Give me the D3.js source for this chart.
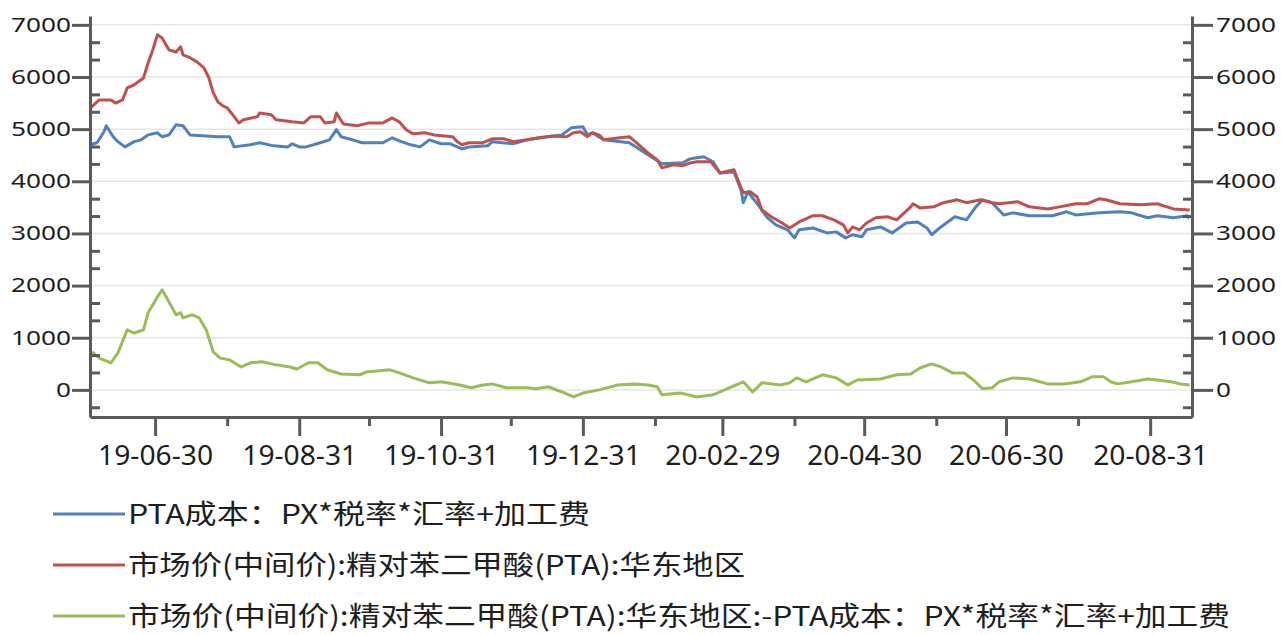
<!DOCTYPE html>
<html><head><meta charset="utf-8">
<script src="https://cdn.jsdelivr.net/npm/d3@7"></script>
<style>body{margin:0;background:#fff;} svg{display:block}</style>
</head><body><svg id="c" width="1281" height="635"></svg>
<script>
// ---------------- data ----------------
const seriesNames = [
  "PTA成本：PX*税率*汇率+加工费",
  "市场价(中间价):精对苯二甲酸(PTA):华东地区",
  "市场价(中间价):精对苯二甲酸(PTA):华东地区:-PTA成本：PX*税率*汇率+加工费"
];
const seriesColors = ["#4f81bd", "#c0504d", "#9bbb59"];

const costDates = ["2019-06-02","2019-06-05","2019-06-08","2019-06-09","2019-06-12","2019-06-14","2019-06-17","2019-06-21","2019-06-24","2019-06-27",
"2019-07-01","2019-07-03","2019-07-06","2019-07-09","2019-07-12","2019-07-15","2019-07-22","2019-07-27","2019-08-01","2019-08-03",
"2019-08-10","2019-08-14","2019-08-20","2019-08-26","2019-08-28","2019-08-31","2019-09-03","2019-09-09","2019-09-13","2019-09-16",
"2019-09-18","2019-09-23","2019-09-27","2019-10-06","2019-10-10","2019-10-13","2019-10-18","2019-10-22","2019-10-26","2019-10-31",
"2019-11-04","2019-11-07","2019-11-09","2019-11-12","2019-11-20","2019-11-22","2019-12-01","2019-12-07","2019-12-16","2019-12-22",
"2019-12-26","2019-12-31","2020-01-02","2020-01-04","2020-01-09","2020-01-20","2020-01-26","2020-01-30","2020-02-03","2020-02-12",
"2020-02-15","2020-02-18","2020-02-21","2020-02-25","2020-02-28","2020-03-05","2020-03-08","2020-03-09","2020-03-11","2020-03-16",
"2020-03-19","2020-03-23","2020-03-28","2020-03-31","2020-04-02","2020-04-08","2020-04-14","2020-04-18","2020-04-22","2020-04-25",
"2020-04-29","2020-05-01","2020-05-07","2020-05-12","2020-05-18","2020-05-23","2020-05-27","2020-05-29","2020-06-02","2020-06-08",
"2020-06-13","2020-06-17","2020-06-20","2020-06-24","2020-06-29","2020-07-03","2020-07-10","2020-07-20","2020-07-26","2020-07-30",
"2020-08-09","2020-08-18","2020-08-23","2020-08-30","2020-09-03","2020-09-10","2020-09-16","2020-09-17"];
const costValues = [4700,4740,4950,5065,4855,4760,4660,4760,4795,4890,
4930,4855,4890,5085,5065,4890,4870,4855,4855,4660,
4700,4740,4680,4660,4720,4660,4660,4740,4795,4990,
4855,4795,4740,4740,4835,4775,4700,4660,4795,4720,
4720,4660,4620,4660,4680,4760,4720,4795,4855,4890,
5025,5045,4890,4930,4795,4740,4565,4450,4335,4355,
4430,4450,4470,4375,4160,4180,3835,3590,3800,3510,
3320,3165,3070,2915,3070,3105,3010,3030,2915,2975,
2935,3070,3125,3010,3200,3220,3105,2975,3125,3320,
3260,3510,3645,3590,3355,3395,3340,3340,3415,3355,
3395,3415,3395,3300,3340,3300,3340,3290];

const priceDates = ["2019-06-02","2019-06-06","2019-06-11","2019-06-13","2019-06-16","2019-06-18","2019-06-21","2019-06-25","2019-06-27","2019-06-29",
"2019-07-01","2019-07-03","2019-07-06","2019-07-09","2019-07-11","2019-07-12","2019-07-15","2019-07-18","2019-07-21","2019-07-23",
"2019-07-25","2019-07-27","2019-07-29","2019-07-31","2019-08-03","2019-08-05","2019-08-07","2019-08-13","2019-08-14","2019-08-19",
"2019-08-21","2019-08-28","2019-09-02","2019-09-05","2019-09-09","2019-09-11","2019-09-15","2019-09-16","2019-09-19","2019-09-25",
"2019-09-30","2019-10-06","2019-10-10","2019-10-13","2019-10-16","2019-10-19","2019-10-24","2019-10-28","2019-11-05","2019-11-07",
"2019-11-09","2019-11-12","2019-11-18","2019-11-22","2019-11-27","2019-12-01","2019-12-07","2019-12-12","2019-12-18","2019-12-24",
"2019-12-27","2019-12-30","2020-01-02","2020-01-04","2020-01-07","2020-01-09","2020-01-16","2020-01-20","2020-01-23","2020-01-28",
"2020-02-01","2020-02-03","2020-02-08","2020-02-12","2020-02-15","2020-02-18","2020-02-24","2020-02-28","2020-03-05","2020-03-07",
"2020-03-09","2020-03-12","2020-03-15","2020-03-17","2020-03-21","2020-03-25","2020-03-29","2020-04-02","2020-04-08","2020-04-12",
"2020-04-17","2020-04-21","2020-04-23","2020-04-25","2020-04-28","2020-05-01","2020-05-05","2020-05-10","2020-05-14","2020-05-20",
"2020-05-21","2020-05-24","2020-05-30","2020-06-03","2020-06-09","2020-06-13","2020-06-19","2020-06-24","2020-06-27","2020-07-05",
"2020-07-10","2020-07-18","2020-07-23","2020-07-30","2020-08-04","2020-08-09","2020-08-12","2020-08-18","2020-08-27","2020-09-03",
"2020-09-10","2020-09-17"];
const priceValues = [5400,5560,5560,5500,5560,5790,5850,5980,6270,6520,
6810,6750,6520,6480,6580,6425,6370,6290,6175,6000,
5700,5525,5450,5410,5240,5120,5180,5240,5310,5275,
5180,5140,5120,5240,5240,5120,5140,5310,5100,5065,
5120,5120,5215,5140,4990,4910,4930,4890,4855,4760,
4700,4740,4740,4815,4815,4760,4795,4835,4870,4855,
4930,4950,4855,4930,4890,4795,4835,4855,4740,4545,
4410,4260,4315,4300,4350,4375,4375,4160,4220,3990,
3780,3800,3700,3450,3320,3220,3105,3220,3340,3340,
3260,3165,3010,3125,3070,3200,3300,3320,3260,3510,
3570,3490,3510,3590,3645,3590,3645,3590,3570,3610,
3510,3470,3510,3570,3570,3665,3645,3570,3550,3570,
3470,3450];

const spreadDates = ["2019-06-03","2019-06-06","2019-06-11","2019-06-14","2019-06-18","2019-06-21","2019-06-25","2019-06-27","2019-07-01","2019-07-03",
"2019-07-05","2019-07-09","2019-07-11","2019-07-12","2019-07-16","2019-07-19","2019-07-22","2019-07-25","2019-07-28","2019-08-01",
"2019-08-06","2019-08-10","2019-08-15","2019-08-21","2019-08-27","2019-08-30","2019-09-04","2019-09-08","2019-09-12","2019-09-18",
"2019-09-26","2019-09-29","2019-10-09","2019-10-13","2019-10-19","2019-10-26","2019-10-31","2019-11-08","2019-11-13","2019-11-18",
"2019-11-22","2019-11-28","2019-12-07","2019-12-11","2019-12-16","2019-12-22","2019-12-27","2019-12-31","2020-01-07","2020-01-15",
"2020-01-22","2020-01-28","2020-02-01","2020-02-03","2020-02-11","2020-02-18","2020-02-25","2020-03-02","2020-03-09","2020-03-13",
"2020-03-17","2020-03-25","2020-03-29","2020-04-01","2020-04-05","2020-04-12","2020-04-18","2020-04-23","2020-04-27","2020-05-07",
"2020-05-14","2020-05-20","2020-05-24","2020-05-29","2020-06-02","2020-06-07","2020-06-12","2020-06-16","2020-06-20","2020-06-24",
"2020-06-27","2020-07-03","2020-07-10","2020-07-18","2020-07-25","2020-08-01","2020-08-06","2020-08-11","2020-08-14","2020-08-17",
"2020-08-23","2020-08-30","2020-09-03","2020-09-09","2020-09-13","2020-09-17"];
const spreadValues = [730,610,520,710,1150,1090,1150,1480,1780,1920,
1765,1440,1480,1380,1440,1380,1150,730,610,575,
440,520,540,480,440,400,520,520,385,305,
290,345,385,325,230,135,155,95,40,95,
115,40,40,20,60,-40,-135,-60,0,95,
115,95,60,-95,-60,-135,-95,20,155,-40,
135,95,135,230,155,290,230,95,190,210,
290,305,420,500,440,325,325,190,20,40,
155,230,210,115,115,155,250,250,155,115,
155,210,190,155,115,95];

const yMajorTicks = [0,1000,2000,3000,4000,5000,6000,7000];
const yMinorTicks = [-333.33,333.33,666.67,1333.33,1666.67,2333.33,2666.67,3333.33,3666.67,4333.33,4666.67,5333.33,5666.67,6333.33,6666.67];
const xMajorTicks = ["2019-06-30","2019-08-31","2019-10-31","2019-12-31","2020-02-29","2020-04-30","2020-06-30","2020-08-31"];
const xMinorTicks = ["2019-07-31","2019-09-30","2019-11-30","2020-01-31","2020-03-31","2020-05-31","2020-07-31"];

// ---------------- chart ----------------
const parse = d3.timeParse("%Y-%m-%d");
const svg = d3.select("#c");
const L = 90, R = 1192, T = 16, B = 417;
const x = d3.scaleTime().domain([parse("2019-06-02"), parse("2020-09-18")]).range([L, R]);
const y = d3.scaleLinear().domain([-520, 7170]).range([B, T]);
const axisColor = "#5a5a5a";
const textColor = "#1e1e1e";

// gridlines
svg.append("g").selectAll("line").data(yMajorTicks).join("line")
  .attr("x1", L).attr("x2", R).attr("y1", d => y(d)).attr("y2", d => y(d))
  .attr("stroke", "#e6e6e6").attr("stroke-width", 1.5);

// series
const series = [
  {dates: costDates, values: costValues},
  {dates: priceDates, values: priceValues},
  {dates: spreadDates, values: spreadValues}
];
const line = d3.line().x(d => x(d[0])).y(d => y(d[1])).curve(d3.curveLinear);
series.forEach((s, i) => {
  const pts = s.dates.map((d, k) => [parse(d), s.values[k]]);
  svg.append("path").datum(pts).attr("d", line)
    .attr("fill", "none").attr("stroke", seriesColors[i])
    .attr("stroke-width", 3).attr("stroke-linejoin", "round");
});

function styleAxis(g) {
  g.selectAll("path.domain").attr("stroke", axisColor).attr("stroke-width", 3);
  g.selectAll(".tick line").attr("stroke", axisColor).attr("stroke-width", 3);
}

// left axis
const gl = svg.append("g").attr("transform", `translate(${L},0)`)
  .call(d3.axisLeft(y).tickValues(yMajorTicks).tickSizeInner(18).tickSizeOuter(0).tickPadding(1).tickFormat(d3.format("d")));
styleAxis(gl);
const glm = svg.append("g").attr("transform", `translate(${L},0)`)
  .call(d3.axisLeft(y).tickValues(yMinorTicks).tickSize(-10).tickFormat(""));
glm.select(".domain").remove(); styleAxis(glm);

// right axis
const gr = svg.append("g").attr("transform", `translate(${R},0)`)
  .call(d3.axisRight(y).tickValues(yMajorTicks).tickSizeInner(21).tickSizeOuter(0).tickPadding(3).tickFormat(d3.format("d")));
styleAxis(gr);
const grm = svg.append("g").attr("transform", `translate(${R},0)`)
  .call(d3.axisRight(y).tickValues(yMinorTicks).tickSize(-9).tickFormat(""));
grm.select(".domain").remove(); styleAxis(grm);

[gl, gr].forEach(g => {
  g.selectAll("text")
    .attr("font-family", "'Noto Sans', 'Open Sans', sans-serif")
    .attr("font-size", 20).attr("fill", textColor)
    .attr("textLength", function() { return this.textContent.length * 15; })
    .attr("lengthAdjust", "spacingAndGlyphs");
});

// bottom axis
const gb = svg.append("g").attr("transform", `translate(0,${B})`)
  .call(d3.axisBottom(x).tickValues(xMajorTicks.map(parse)).tickSizeInner(19).tickSizeOuter(0).tickPadding(10).tickFormat(d3.timeFormat("%y-%m-%d")));
styleAxis(gb);
gb.selectAll("text")
  .attr("font-family", "'Noto Sans', 'Open Sans', sans-serif")
  .attr("font-size", 27).attr("fill", textColor)
  .attr("textLength", 115).attr("lengthAdjust", "spacingAndGlyphs");
const gbm = svg.append("g").attr("transform", `translate(0,${B})`)
  .call(d3.axisBottom(x).tickValues(xMinorTicks.map(parse)).tickSize(9).tickFormat(""));
gbm.select(".domain").remove(); styleAxis(gbm);

// legend
const legendWidths = [462, 617, 1102];
const legend = svg.append("g");
seriesNames.forEach((name, i) => {
  const yy = 514 + i * 51;
  legend.append("line").attr("x1", 53).attr("x2", 125).attr("y1", yy).attr("y2", yy)
    .attr("stroke", seriesColors[i]).attr("stroke-width", 3);
  legend.append("text").attr("x", 128).attr("y", yy + 10)
    .attr("font-family", "'Noto Sans CJK SC', 'Noto Sans', sans-serif")
    .attr("font-size", 27).attr("fill", textColor)
    .attr("textLength", legendWidths[i]).attr("lengthAdjust", "spacingAndGlyphs")
    .text(name);
});
</script>
</body></html>
